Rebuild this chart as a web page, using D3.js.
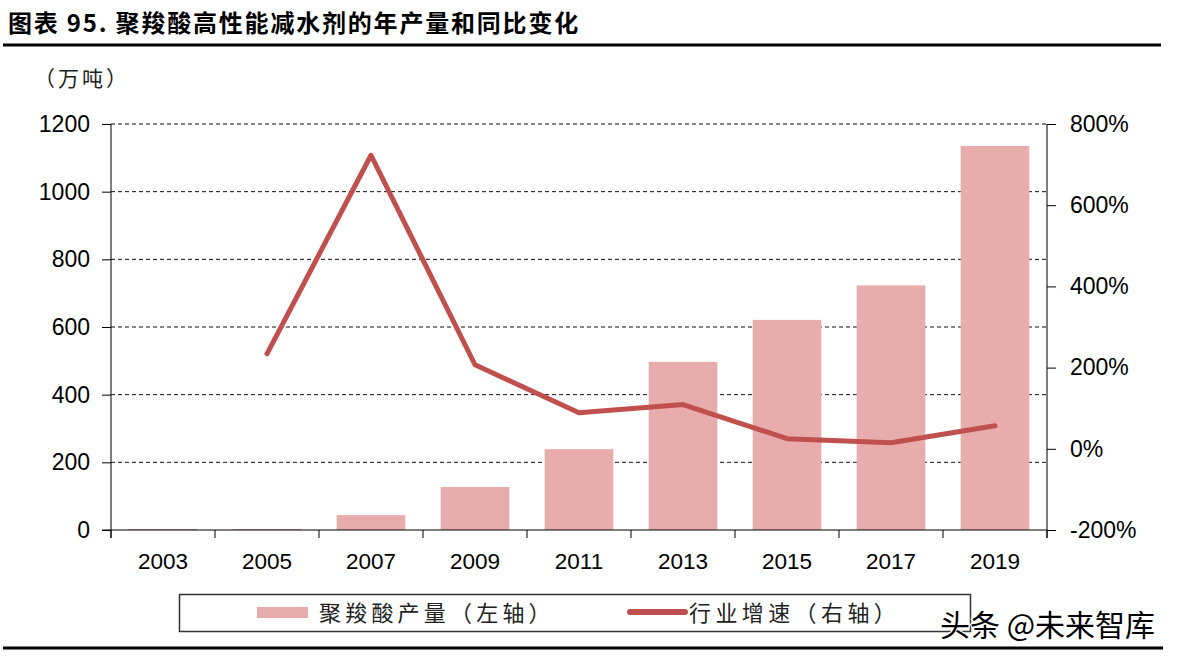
<!DOCTYPE html>
<html><head><meta charset="utf-8">
<script src="https://cdn.jsdelivr.net/npm/d3@7"></script>
<style>
body{margin:0;background:#fff;}
svg{display:block;}
</style></head>
<body>
<svg id="c" width="1177" height="657"></svg>
<script>
const years = ["2003","2005","2007","2009","2011","2013","2015","2017","2019"];
const output = [3, 3, 44, 127, 239, 497, 621, 723, 1135];
const growth = [null, 234, 723, 207, 89, 109, 25, 15, 57];
const leftTicks = [0, 200, 400, 600, 800, 1000, 1200];
const rightTicks = [-200, 0, 200, 400, 600, 800];
const title = "图表 95. 聚羧酸高性能减水剂的年产量和同比变化";
const unit = "（万吨）";
const legendNames = ["聚羧酸产量（左轴）", "行业增速（右轴）"];
const watermark = "头条 @未来智库";

const svg = d3.select("#c");
const L = 111, R = 1047, T = 124, B = 530;
const numFont = "'Liberation Sans', Arial, sans-serif";
const cjk = "'Noto Sans CJK SC', sans-serif";
const barColor = "#E8ACAC", lineColor = "#C0504D";

const x = d3.scaleBand().domain(years).range([L, R]).paddingInner(0.34).paddingOuter(0.17);
const yL = d3.scaleLinear().domain([0, 1200]).range([B, T]);
const yR = d3.scaleLinear().domain([-200, 800]).range([B, T]);

// title
svg.append("text").attr("x", 8).attr("y", 32).attr("font-family", cjk).attr("font-weight", "bold")
  .attr("font-size", 24).attr("letter-spacing", 1.8).attr("fill", "#000").text(title);
svg.append("line").attr("x1", 3).attr("x2", 1161).attr("y1", 45).attr("y2", 45).attr("stroke", "#000").attr("stroke-width", 3);
svg.append("line").attr("x1", 3).attr("x2", 1163).attr("y1", 648).attr("y2", 648).attr("stroke", "#000").attr("stroke-width", 3);

// unit
svg.append("text").attr("x", 34).attr("y", 86).attr("font-family", cjk).attr("font-size", 21)
  .attr("letter-spacing", 3).attr("fill", "#222").text(unit);

// gridlines
svg.append("g").selectAll("line").data(leftTicks.filter(d => d > 0)).join("line")
  .attr("x1", L).attr("x2", R).attr("y1", d => yL(d)).attr("y2", d => yL(d))
  .attr("stroke", "#111").attr("stroke-width", 1).attr("stroke-dasharray", "4,3");

// bars
svg.append("g").selectAll("rect").data(years).join("rect")
  .attr("x", d => x(d)).attr("width", x.bandwidth())
  .attr("y", (d, i) => yL(output[i])).attr("height", (d, i) => B - yL(output[i]))
  .attr("fill", barColor);

// left axis
const gl = svg.append("g").attr("transform", `translate(${L},0)`)
  .call(d3.axisLeft(yL).tickValues(leftTicks).tickSize(9).tickPadding(12).tickFormat(d3.format("d")));
gl.select(".domain").remove();
gl.append("line").attr("x1", 0).attr("x2", 0).attr("y1", T).attr("y2", B + 8).attr("stroke", "#000");
gl.selectAll(".tick line").attr("stroke", "#000");
gl.selectAll(".tick text").attr("font-family", numFont).attr("font-size", 23).attr("fill", "#000");

// right axis
const gr = svg.append("g").attr("transform", `translate(${R},0)`)
  .call(d3.axisRight(yR).tickValues(rightTicks).tickSize(9).tickPadding(14).tickFormat(d => d + "%"));
gr.select(".domain").remove();
gr.append("line").attr("x1", 0).attr("x2", 0).attr("y1", T).attr("y2", B + 8).attr("stroke", "#000");
gr.selectAll(".tick line").attr("stroke", "#000");
gr.selectAll(".tick text").attr("font-family", numFont).attr("font-size", 23).attr("fill", "#000");

// x axis
svg.append("line").attr("x1", L - 9).attr("x2", R).attr("y1", B).attr("y2", B).attr("stroke", "#000");
const boundaries = years.map(d => x(d) - x.step() * x.paddingInner() / 2).concat([R]);
svg.append("g").selectAll("line").data(boundaries).join("line")
  .attr("x1", d => d).attr("x2", d => d).attr("y1", B).attr("y2", B + 8).attr("stroke", "#000");
svg.append("g").selectAll("text").data(years).join("text")
  .attr("x", d => x(d) + x.bandwidth() / 2).attr("y", 569).attr("text-anchor", "middle")
  .attr("font-family", numFont).attr("font-size", 22.5).attr("fill", "#000").text(d => d);

// line
const line = d3.line().defined(d => d[1] != null)
  .x(d => x(d[0]) + x.bandwidth() / 2).y(d => yR(d[1]));
svg.append("path").datum(years.map((d, i) => [d, growth[i]]))
  .attr("d", line).attr("fill", "none").attr("stroke", lineColor).attr("stroke-width", 5)
  .attr("stroke-linejoin", "round").attr("stroke-linecap", "round");

// legend
svg.append("rect").attr("x", 179.5).attr("y", 594.5).attr("width", 791).attr("height", 37)
  .attr("fill", "none").attr("stroke", "#333").attr("stroke-width", 1.5);
svg.append("rect").attr("x", 257).attr("y", 607).attr("width", 51).attr("height", 11).attr("fill", barColor);
svg.append("text").attr("x", 319).attr("y", 621).attr("font-family", cjk).attr("font-size", 22)
  .attr("letter-spacing", 4.2).attr("fill", "#222").text(legendNames[0]);
svg.append("line").attr("x1", 630).attr("x2", 685).attr("y1", 612).attr("y2", 612)
  .attr("stroke", lineColor).attr("stroke-width", 6).attr("stroke-linecap", "round");
svg.append("text").attr("x", 689).attr("y", 621).attr("font-family", cjk).attr("font-size", 22)
  .attr("letter-spacing", 4.4).attr("fill", "#222").text(legendNames[1]);

// watermark
svg.append("text").attr("x", 940).attr("y", 636).attr("font-family", cjk).attr("font-size", 30)
  .attr("fill", "#000").attr("stroke", "#fff").attr("stroke-width", 2).attr("paint-order", "stroke")
  .text(watermark);
</script>
</body></html>
